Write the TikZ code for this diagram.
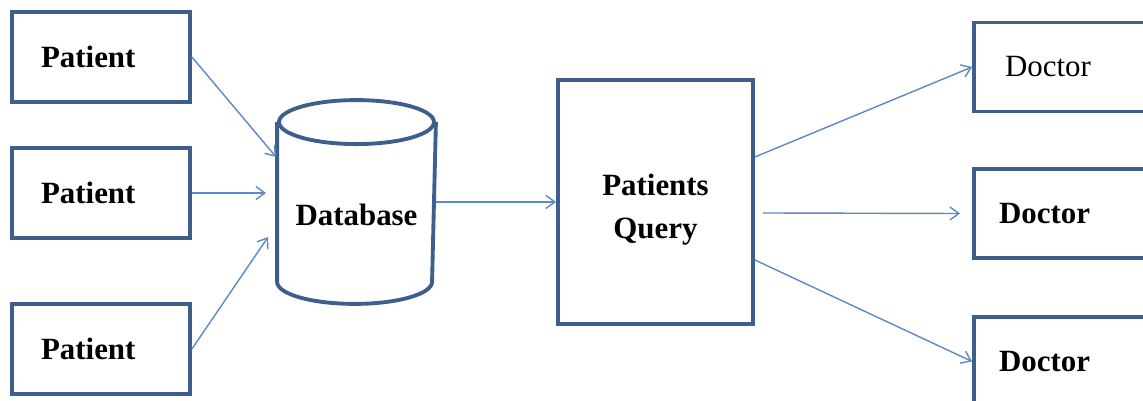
\documentclass[tikz,border=0pt]{standalone}
\usepackage{fontspec}
\setmainfont{Liberation Serif}
\usetikzlibrary{shapes.geometric,positioning,arrows.meta,calc}
\definecolor{boxBlue}{HTML}{3D5F8E}
\definecolor{arrowBlue}{HTML}{5B8AC6}

\begin{document}
\begin{tikzpicture}[x=0.02cm, y=-0.02cm, line width=2.2pt]
    \fontsize{17.6}{24.4}\selectfont

    % Shapes
    \tikzstyle{entity}=[rectangle, draw=boxBlue, fill=white, minimum width=3.56cm, minimum height=1.8cm, inner xsep=0.58cm, text width=2.4cm, align=left, font=\bfseries]
    \tikzstyle{doctor}=[entity, minimum width=4cm, minimum height=1.78cm, inner xsep=0.5cm, text width=3cm]
    \tikzstyle{store}=[rectangle, minimum width=3.1cm, minimum height=4cm, inner sep=0pt]
    \tikzstyle{flow}=[draw=arrowBlue, line width=0.8pt, -{Straight Barb[length=1.8mm,width=2.6mm]}]

    \clip (0,0) rectangle (1143,401);

    % Patients
    \node[entity] (p1) at (101,57) {Patient};
    \node[entity] (p2) at (101,193) {Patient};
    \node[entity] (p3) at (101,349) {Patient};

    % Database (cylinder drawn round the node)
    \node[store, label={[font=\bfseries, yshift=-0.26cm]center:Database}] (db) at (356.5,202) {};
    \draw[boxBlue] ($(db.north west)+(0,22)$) -- ($(db.south west)+(0,-22)$)
        arc[start angle=180, end angle=360, x radius=1.55cm, y radius=0.44cm]
        -- ($(db.north east)+(0,22)$);
    \draw[boxBlue] ($(db.north)+(0,22)$) ellipse[x radius=1.55cm, y radius=0.44cm];

    % Query
    \node[rectangle, draw=boxBlue, minimum width=3.9cm, minimum height=4.88cm,
        label={[font=\bfseries, align=center, yshift=-0.16cm]center:Patients\\Query}] (q) at (655.5,202) {};

    % Doctors
    \node[doctor, font=\mdseries, inner xsep=0.62cm, text width=2.76cm] (d1) at (1074,67) {Doctor};
    \node[doctor] (d2) at (1074,213.5) {Doctor};
    \node[doctor] (d3) at (1074,361.5) {Doctor};

    % Arrows
    \draw[flow] (p1.east) -- ($(db.west)+(-1,-45)$);
    \draw[flow] (p2.east) -- ($(db.west |- p2.east)+(-11,0)$);
    \draw[flow] (p3.east) -- ($(db.west)+(-9,35)$);
    \draw[flow] (db.east) -- (q.west);
    \draw[flow] ($(q.east)+(0,-45)$) -- (d1.west);
    \draw[flow] ($(q.east)+(8,11)$) -- ($(d2.west)+(-12,0)$);
    \draw[flow] ($(q.east)+(0,58)$) -- (d3.west);
\end{tikzpicture}
\end{document}
